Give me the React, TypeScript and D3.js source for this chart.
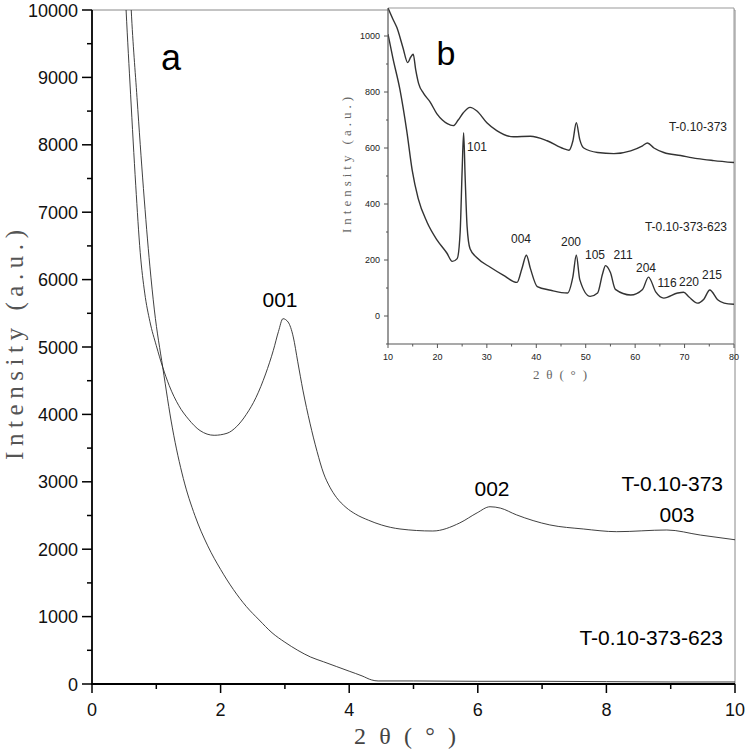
import React from 'react';
import * as d3 from 'd3';

// ---------- Main panel (a) data ----------
const mainXTicks = [0, 2, 4, 6, 8, 10];
const mainXMinor = [1, 3, 5, 7, 9];
const mainYTicks = [0, 1000, 2000, 3000, 4000, 5000, 6000, 7000, 8000, 9000, 10000];
const mainYMinor = [500, 1500, 2500, 3500, 4500, 5500, 6500, 7500, 8500, 9500];

const s373: [number, number][] = [
  [0.5, 10600], [0.53, 10000], [0.6, 8750], [0.68, 7400], [0.75, 6400], [0.82, 5800], [0.9, 5380],
  [1.0, 5020], [1.1, 4700], [1.2, 4430], [1.35, 4130], [1.5, 3930], [1.68, 3760], [1.9, 3690],
  [2.1, 3720], [2.25, 3820], [2.4, 4000], [2.55, 4250], [2.7, 4600], [2.82, 4950], [2.9, 5230],
  [2.97, 5420], [3.05, 5370], [3.13, 5150], [3.2, 4780], [3.28, 4360], [3.39, 3870], [3.5, 3450],
  [3.6, 3130], [3.7, 2920], [3.8, 2770], [3.95, 2620], [4.1, 2520], [4.3, 2430], [4.5, 2360],
  [4.79, 2300], [5.3, 2270], [5.72, 2390], [5.99, 2540], [6.19, 2630], [6.35, 2610], [6.6, 2510],
  [7.12, 2360], [7.64, 2300], [8.16, 2260], [8.94, 2285], [9.46, 2210], [10.0, 2140],
];

const s623: [number, number][] = [
  [0.58, 10600], [0.61, 10000], [0.7, 8700], [0.8, 7350], [0.9, 6200], [0.97, 5550], [1.1, 4700],
  [1.25, 3800], [1.42, 3050], [1.6, 2500], [1.8, 2050], [2.0, 1700], [2.2, 1400], [2.4, 1150],
  [2.6, 950], [2.8, 760], [3.0, 620], [3.2, 500], [3.4, 400], [3.6, 330], [3.8, 260], [4.0, 190],
  [4.2, 120], [4.35, 60], [4.45, 45], [5, 45], [6, 40], [7, 40], [8, 35], [9, 30], [10, 30],
];

// ---------- Inset panel (b) data ----------
const insetXTicks = [10, 20, 30, 40, 50, 60, 70, 80];
const insetXMinor = [15, 25, 35, 45, 55, 65, 75];
const insetYTicks = [0, 200, 400, 600, 800, 1000];
const insetYMinor = [-100, 100, 300, 500, 700, 900];

const i373: [number, number][] = [
  [10, 1100], [11, 1060], [11.8, 1030], [13, 960], [14, 905], [14.6, 925], [15.1, 935], [15.6, 880],
  [16.2, 830], [17.2, 795], [18.5, 765], [19.9, 722], [21, 700], [22, 687], [23.2, 680], [24.2, 700],
  [25.2, 725], [26.6, 745], [28, 732], [30, 690], [32, 662], [35.4, 640], [38.8, 642], [42.2, 626],
  [45.5, 598], [46.6, 592], [47.4, 625], [48.1, 690], [48.8, 630], [49.6, 600], [52.4, 584],
  [55.7, 580], [59.1, 590], [61.5, 608], [62.5, 618], [63.8, 600], [65.8, 584], [69.2, 573],
  [72.6, 562], [75.9, 555], [80, 548],
];

const i623: [number, number][] = [
  [10, 1007], [11, 920], [12.4, 810], [13.8, 660], [14.9, 520], [16.1, 420], [17.9, 335], [19.9, 272],
  [21.9, 225], [23, 195], [24, 205], [24.6, 300], [25.0, 520], [25.3, 655], [25.6, 500], [26.0, 320],
  [26.6, 240], [28, 208], [30.7, 174], [33.3, 146], [36.1, 120], [37.1, 170], [38, 217], [38.8, 170],
  [40.2, 105], [42.9, 92], [46.3, 82], [47.4, 140], [48.1, 217], [48.8, 130], [50.9, 70], [52.4, 82],
  [53.4, 150], [54, 180], [55, 155], [56, 95], [59.1, 75], [61.5, 95], [62.7, 139], [64.2, 85],
  [65.8, 64], [68.6, 82], [69.8, 85], [70.9, 68], [72.6, 46], [73.9, 60], [75.1, 93], [76.7, 58],
  [78, 46], [80, 42],
];

const insetPeakLabels = ['101', '004', '200', '105', '211', '204', '116', '220', '215'];
const insetPeakPos: [number, number][] = [
  [477, 151], [521, 243], [571, 246], [595, 259], [623, 259], [646, 272], [667, 287], [689, 286], [712, 279],
];

const SANS = '"Liberation Sans", Arial, sans-serif';
const SERIF = '"Liberation Serif", "DejaVu Serif", serif';

export default function App() {
  const W = 745, H = 749;
  const x = d3.scaleLinear().domain([0, 10]).range([92, 735]);
  const y = d3.scaleLinear().domain([0, 10000]).range([684, 10]);
  const ix = d3.scaleLinear().domain([10, 80]).range([388, 734]);
  const iy = d3.scaleLinear().domain([-100, 1100]).range([344, 8]);

  const mainLine = d3.line<[number, number]>().x(d => x(d[0])).y(d => y(d[1])).curve(d3.curveMonotoneX);
  const insetLine = d3.line<[number, number]>().x(d => ix(d[0])).y(d => iy(d[1])).curve(d3.curveMonotoneX);

  return (
    <svg width={W} height={H} style={{ position: 'absolute', left: 0, top: 0, display: 'block', background: '#fff' }}>
      <defs>
        <clipPath id="mainClip"><rect x={92} y={10} width={643} height={674} /></clipPath>
        <clipPath id="insetClip"><rect x={388} y={8} width={346} height={336} /></clipPath>
      </defs>

      {/* main frame */}
      <line x1={92} y1={10} x2={735} y2={10} stroke="#888" strokeWidth={1} />
      <line x1={735} y1={10} x2={735} y2={684} stroke="#888" strokeWidth={1} />

      {/* main curves */}
      <g clipPath="url(#mainClip)" fill="none" stroke="#2a2a2a" strokeWidth={0.9}>
        <path d={mainLine(s373) || ''} />
        <path d={mainLine(s623) || ''} />
      </g>

      {/* main axes */}
      <line x1={92} y1={10} x2={92} y2={685} stroke="#000" strokeWidth={1.8} />
      <line x1={91} y1={684} x2={735} y2={684} stroke="#000" strokeWidth={1.8} />
      {mainYTicks.map(t => (
        <g key={'my' + t}>
          <line x1={82} x2={92} y1={y(t)} y2={y(t)} stroke="#000" strokeWidth={1.5} />
          <text x={78} y={y(t) + 6.5} textAnchor="end" fontFamily={SANS} fontSize={18} fill="#111">{t}</text>
        </g>
      ))}
      {mainYMinor.map(t => (
        <line key={'mym' + t} x1={87} x2={92} y1={y(t)} y2={y(t)} stroke="#000" strokeWidth={1.5} />
      ))}
      {mainXTicks.map(t => (
        <g key={'mx' + t}>
          <line x1={x(t)} x2={x(t)} y1={684} y2={693} stroke="#000" strokeWidth={1.5} />
          <text x={x(t)} y={716} textAnchor="middle" fontFamily={SANS} fontSize={18} fill="#111">{t}</text>
        </g>
      ))}
      {mainXMinor.map(t => (
        <line key={'mxm' + t} x1={x(t)} x2={x(t)} y1={684} y2={689} stroke="#000" strokeWidth={1.5} />
      ))}

      {/* main titles */}
      <text transform="translate(23,345) rotate(-90)" textAnchor="middle" fontFamily={SERIF} fontSize={25}
        fill="#555" textLength={230} lengthAdjust="spacing">Intensity (a.u.)</text>
      <text x={405} y={744} textAnchor="middle" fontFamily={SERIF} fontSize={24} fill="#444"
        textLength={102} lengthAdjust="spacing">2θ(°)</text>

      {/* main annotations */}
      <text x={171} y={70} textAnchor="middle" fontFamily={SANS} fontSize={36} fill="#000">a</text>
      <text x={280} y={307} textAnchor="middle" fontFamily={SANS} fontSize={21} fill="#000">001</text>
      <text x={492} y={496} textAnchor="middle" fontFamily={SANS} fontSize={21} fill="#000">002</text>
      <text x={677} y={522} textAnchor="middle" fontFamily={SANS} fontSize={21} fill="#000">003</text>
      <text x={723} y={491} textAnchor="end" fontFamily={SANS} fontSize={21} fill="#000">T-0.10-373</text>
      <text x={723} y={645} textAnchor="end" fontFamily={SANS} fontSize={21} fill="#000">T-0.10-373-623</text>

      {/* ---------- inset ---------- */}
      <rect x={388} y={8} width={346} height={336} fill="#fff" />
      <line x1={388} y1={8} x2={734} y2={8} stroke="#999" strokeWidth={1} />
      <line x1={734} y1={8} x2={734} y2={344} stroke="#999" strokeWidth={1} />
      <g clipPath="url(#insetClip)" fill="none" stroke="#333" strokeWidth={1.4}>
        <path d={insetLine(i373) || ''} />
        <path d={insetLine(i623) || ''} />
      </g>
      <line x1={388} y1={8} x2={388} y2={344} stroke="#555" strokeWidth={1.2} />
      <line x1={388} y1={344} x2={734} y2={344} stroke="#555" strokeWidth={1.2} />
      {insetYTicks.map(t => (
        <g key={'iy' + t}>
          <line x1={384} x2={388} y1={iy(t)} y2={iy(t)} stroke="#555" strokeWidth={1} />
          <text x={380} y={iy(t) + 3} textAnchor="end" fontFamily={SANS} fontSize={9} fill="#222">{t}</text>
        </g>
      ))}
      {insetYMinor.map(t => (
        <line key={'iym' + t} x1={386} x2={388} y1={iy(t)} y2={iy(t)} stroke="#555" strokeWidth={1} />
      ))}
      {insetXTicks.map(t => (
        <g key={'ix' + t}>
          <line x1={ix(t)} x2={ix(t)} y1={344} y2={348} stroke="#555" strokeWidth={1} />
          <text x={ix(t)} y={360} textAnchor="middle" fontFamily={SANS} fontSize={9} fill="#222">{t}</text>
        </g>
      ))}
      {insetXMinor.map(t => (
        <line key={'ixm' + t} x1={ix(t)} x2={ix(t)} y1={344} y2={346.5} stroke="#555" strokeWidth={1} />
      ))}
      <text transform="translate(351,165) rotate(-90)" textAnchor="middle" fontFamily={SERIF} fontSize={13}
        fill="#666" textLength={136} lengthAdjust="spacing">Intensity (a.u.)</text>
      <text x={560} y={379} textAnchor="middle" fontFamily={SERIF} fontSize={13} fill="#666"
        textLength={54} lengthAdjust="spacing">2θ(°)</text>

      <text x={446} y={65} textAnchor="middle" fontFamily={SANS} fontSize={34} fill="#000">b</text>
      <text x={727} y={131} textAnchor="end" fontFamily={SANS} fontSize={12} fill="#222">T-0.10-373</text>
      <text x={727} y={231} textAnchor="end" fontFamily={SANS} fontSize={12} fill="#222">T-0.10-373-623</text>
      {insetPeakLabels.map((l, i) => (
        <text key={'pk' + l} x={insetPeakPos[i][0]} y={insetPeakPos[i][1]} textAnchor="middle"
          fontFamily={SANS} fontSize={12} fill="#222">{l}</text>
      ))}
    </svg>
  );
}
